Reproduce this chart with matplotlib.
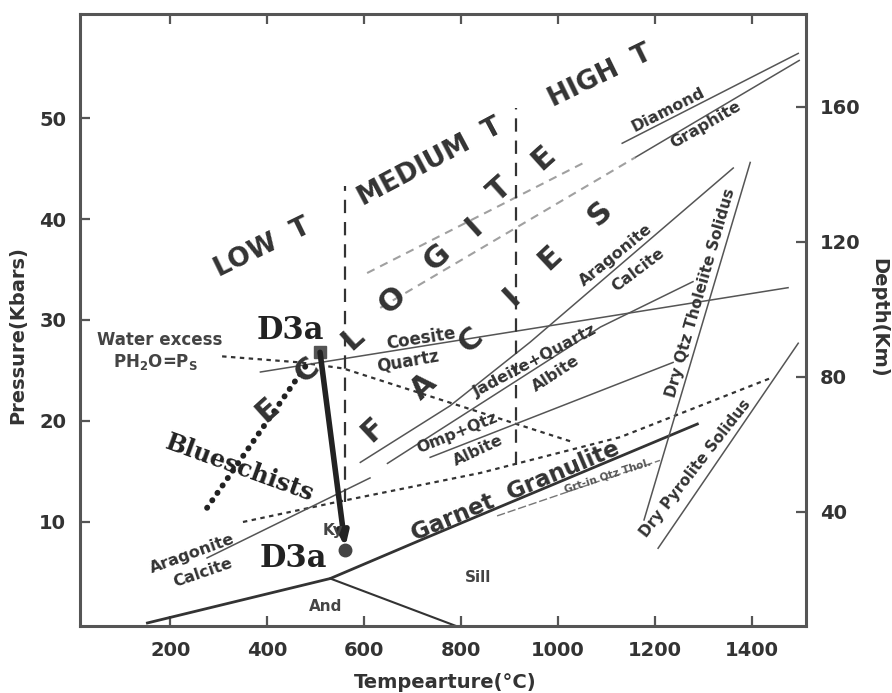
import matplotlib
matplotlib.use('Agg')
import matplotlib.pyplot as plt

plt.rcParams['font.family'] = ['DejaVu Sans']

# ---------------- data ----------------
xticks = [200, 400, 600, 800, 1000, 1200, 1400]
yticks = [10, 20, 30, 40, 50]
depth_ticks = [40, 80, 120, 160]

grt_gran_T = [153, 530, 716, 1287]
grt_gran_P = [0.0, 4.4, 8.2, 19.7]
and_sill_T = [530, 795]
and_sill_P = [4.4, -0.4]
grt_in_T = [874, 1210]
grt_in_P = [10.6, 16.1]
gg_upper_T = [350, 536, 839, 1128, 1441]
gg_upper_P = [10.0, 11.9, 14.85, 18.4, 24.3]
wet_sol_T = [307, 468, 557, 1031]
wet_sol_P = [26.4, 25.8, 25.2, 17.9]
coesite_T = [386, 1474]
coesite_P = [24.85, 33.2]
arag_hi_T = [592, 777, 942, 1361]
arag_hi_P = [15.9, 21.5, 27.8, 45.05]
arag_lo_T = [276, 612]
arag_lo_P = [6.44, 14.36]
jadeite_T = [648, 1087, 1278]
jadeite_P = [15.8, 29.3, 33.8]
omp_T = [736, 1237]
omp_P = [16.4, 25.8]
tholeiite_T = [1177, 1396]
tholeiite_P = [10.2, 45.6]
pyrolite_T = [1206, 1495]
pyrolite_P = [7.4, 27.7]
diamond_T = [1132, 1495]
diamond_P = [47.5, 56.4]
graphite_T = [1159, 1497]
graphite_P = [46.1, 55.7]
ecl_up_T = [606, 1050]
ecl_up_P = [34.65, 45.5]
ecl_lo_T = [633, 1159]
ecl_lo_P = [31.2, 46.1]
lowmed_T = [561, 561]
lowmed_P = [12.0, 43.3]
medhigh_T = [914, 914]
medhigh_P = [15.6, 51.0]
blueschist_T = [276, 483]
blueschist_P = [11.4, 25.7]
d3a_T = [509, 561]
d3a_P = [26.8, 7.2]

# ---------------- figure ----------------
fig = plt.figure(figsize=(8.92, 6.93), dpi=100)
ax = fig.add_axes([80/892, 67/693, 726/892, 612/693])
ax.set_xlim(14, 1511)
ax.set_ylim(-0.3, 60.3)

dark = '#333333'
mid = '#555555'

ax.plot(grt_gran_T, grt_gran_P, color=dark, lw=2.0)
ax.plot(and_sill_T, and_sill_P, color=dark, lw=1.5)
ax.plot(grt_in_T, grt_in_P, color='#777777', lw=1.0, ls=(0, (6, 2)))
ax.plot(gg_upper_T, gg_upper_P, color=dark, lw=1.6, ls=(0, (2, 2)))
ax.plot(wet_sol_T, wet_sol_P, color=dark, lw=1.6, ls=(0, (2, 2)))
for T, P in [(coesite_T, coesite_P), (arag_hi_T, arag_hi_P), (arag_lo_T, arag_lo_P),
             (jadeite_T, jadeite_P), (omp_T, omp_P), (tholeiite_T, tholeiite_P),
             (pyrolite_T, pyrolite_P), (diamond_T, diamond_P), (graphite_T, graphite_P)]:
    ax.plot(T, P, color=mid, lw=1.1)
for T, P in [(ecl_up_T, ecl_up_P), (ecl_lo_T, ecl_lo_P)]:
    ax.plot(T, P, color='#a0a0a0', lw=1.5, ls=(0, (4, 3)))
for T, P in [(lowmed_T, lowmed_P), (medhigh_T, medhigh_P)]:
    ax.plot(T, P, color=dark, lw=1.6, ls=(0, (6, 4)))
ax.plot(blueschist_T, blueschist_P, color='#222222', lw=4.2, ls=(0, (0.05, 1.5)),
        dash_capstyle='round')

# D3a path
ax.annotate('', xy=(d3a_T[1], d3a_P[1] + 0.3), xytext=(d3a_T[0], d3a_P[0]),
            arrowprops=dict(arrowstyle='-|>,head_length=0.8,head_width=0.3',
                            lw=4, color='#222222', shrinkA=0, shrinkB=0))
ax.plot([d3a_T[0]], [d3a_P[0]], marker='s', ms=9, color='#555555')
ax.plot([d3a_T[1]], [d3a_P[1]], marker='o', ms=9, color='#444444')

# ---------------- text ----------------
sans = dict(weight='bold', color=dark)
serif = dict(family='DejaVu Serif', weight='bold', color='#222222')

def t(x, y, s, size=10, rot=0, **kw):
    d = dict(sans)
    d.update(kw)
    ax.text(x, y, s, fontsize=size, rotation=rot, ha='center', va='center',
            rotation_mode='anchor', **d)

t(390, 37.1, 'LOW  T', 19, 26)
t(736, 45.6, 'MEDIUM  T', 19, 28)
t(1087, 54.1, 'HIGH  T', 19, 26)

ecl_letters = [('E', 400, 21.1), ('C', 482, 25.05), ('L', 577, 28.2), ('O', 658, 32.0),
               ('G', 750, 36.2), ('I', 825, 39.2), ('T', 880, 42.9), ('E', 969, 46.1)]
for s, x, y in ecl_letters:
    t(x, y, s, 22, 42)
fac_letters = [('F', 619, 19.1), ('A', 722, 23.4), ('C', 819, 28.0), ('I', 905, 32.3),
               ('E', 984, 36.2), ('S', 1087, 40.6)]
for s, x, y in fac_letters:
    t(x, y, s, 22, 43)

t(1227, 50.8, 'Diamond', 11.5, 27)
t(1305, 49.3, 'Graphite', 11.5, 30)
t(1118, 36.4, 'Aragonite', 11.5, 39)
t(1165, 34.95, 'Calcite', 11.5, 37)
t(1293, 32.7, 'Dry Qtz Tholeiite Solidus', 11.2, 74)
t(1283, 15.35, 'Dry Pyrolite Solidus', 11, 52)
t(911, 13.0, 'Garnet  Granulite', 16.5, 23)
t(1101, 14.55, 'Grt-in Qtz Thol.', 7.5, 18, color='#555555')
t(953, 25.9, 'Jadeite+Quartz', 11.5, 28)
t(996, 24.65, 'Albite', 11.5, 33)
t(792, 18.8, 'Omp+Qtz', 11.5, 22)
t(835, 17.1, 'Albite', 11.5, 25)
t(716, 28.2, 'Coesite', 12, 9)
t(691, 25.9, 'Quartz', 12, 10)
t(179, 28.0, 'Water excess', 12, 0, color='#444444')
t(169, 25.8, r'PH$_\mathbf{2}$O=P$_\mathbf{S}$', 12, 0, color='#444444')
t(245, 6.9, 'Aragonite', 11.5, 20)
t(268, 4.95, 'Calcite', 11.5, 19)
t(536, 9.2, 'Ky', 11, 0, color='#444444')
t(520, 1.6, 'And', 11, 0, color='#444444')
t(835, 4.46, 'Sill', 11, 0, color='#444444')

ax.text(447, 29.0, 'D3a', fontsize=22, ha='center', va='center', **serif)
ax.text(454, 6.4, 'D3a', fontsize=22, ha='center', va='center', **serif)
ax.text(344, 15.35, 'Blueschists', fontsize=17.5, rotation=-20, ha='center', va='center',
        rotation_mode='anchor', **serif)

# ---------------- axes styling ----------------
for sp in ax.spines.values():
    sp.set_color('#555555')
    sp.set_linewidth(2.2)
ax.set_xticks(xticks)
ax.set_yticks(yticks)
ax.tick_params(axis='both', direction='in', length=7, width=1.6, color='#555555',
               labelsize=14, labelcolor=dark)
ax.tick_params(axis='x', top=True, pad=11)
ax.tick_params(axis='y', right=False, pad=10)
for lab in ax.get_xticklabels() + ax.get_yticklabels():
    lab.set_fontweight('bold')

sec = ax.secondary_yaxis('right', functions=(lambda p: 2.99 * p + 7.1,
                                               lambda d: (d - 7.1) / 2.99))
sec.set_yticks(depth_ticks)
sec.tick_params(direction='in', length=7, width=1.6, color='#555555',
                labelsize=14, labelcolor=dark, pad=10)
sec.spines['right'].set_visible(False)
for lab in sec.get_yticklabels():
    lab.set_fontweight('bold')

fig.text(445/892, 1 - 683/693, 'Tempearture(°C)', ha='center', va='center',
         fontsize=14, fontweight='bold', color=dark)
fig.text(18/892, 1 - 335/693, 'Pressure(Kbars)', ha='center', va='center',
         rotation=90, fontsize=14, fontweight='bold', color=dark)
fig.text(879/892, 1 - 318/693, 'Depth(Km)', ha='center', va='center',
         rotation=270, fontsize=14, fontweight='bold', color=dark)

fig.savefig('out.png', dpi=100)
